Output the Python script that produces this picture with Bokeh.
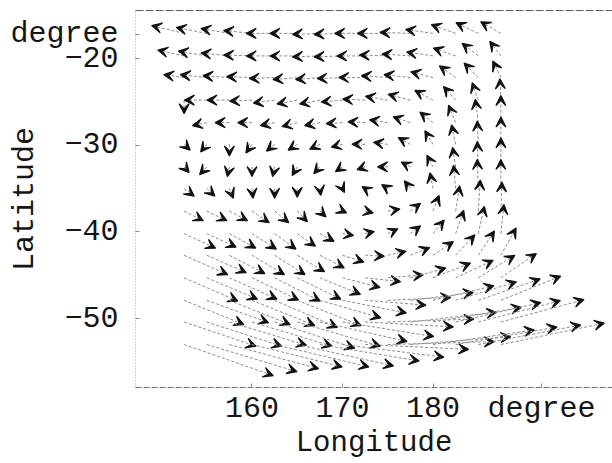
from bokeh.plotting import figure
from bokeh.models import (Range1d, ColumnDataSource, Arrow, VeeHead, FixedTicker,
                          LinearAxis)
from bokeh.embed import file_html
from bokeh.resources import INLINE

# ---- data (grid of current vectors) ----
LON = [152.5, 155.0, 157.5, 160.0, 162.5, 165.0, 167.5, 170.0,
       172.5, 175.0, 177.5, 180.0, 182.5, 185.0, 187.5]
LAT = [-17.1, -19.7, -22.2, -24.8, -27.4, -29.9, -32.5, -35.0,
       -37.6, -40.2, -42.7, -45.3, -47.9, -50.4, -53.0]

# eastward component (arbitrary speed units), one list per latitude row
U = [
    [-32, -30, -28, -28, -28, -27, -27, -28, -30, -30, -30, -27, -24, -22, -20],
    [-26, -28, -28, -28, -28, -27, -27, -28, -28, -28, -28, -26, -22, -16, -11],
    [-20, -26, -26, -25, -25, -24, -24, -25, -26, -26, -26, -22, -16, -14, -8],
    [0, -22, -22, -22, -21, -20, -20, -21, -22, -22, -22, -18, -12, -6, -1],
    [None, -14, -14, -14, -14, -15, -15, -16, -17, -18, -17, -13, -7, -3, 0],
    [6, -6, 0, -6, -8, -9, -10, -11, -13, -14, -12, -8, -4, -1, 0],
    [5, -7, -2, 0, -2, -5, -6, -7, -8, -10, -9, -6, -3, -1, 0],
    [10, 8, 4, 1, 0, 0, 1, 2, -3, -6, -6, -3, -2, -1, 0],
    [19, 20, 18, 17, 14, 10, 6, 4, 8, 12, 10, 6, 4, 2, 1],
    [31, 29, 26, 24, 21, 18, 14, 11, 9, 10, 10, 11, 8, 6, 3],
    [43, 39, 35, 32, 30, 27, 24, 21, 19, 18, 19, 20, 19, 16, 15],
    [53, 50, 47, 46, 45, 43, 40, 37, 35, 35, 35, 37, 37, 36, 35],
    [59, 61, 60, 62, 62, 63, 60, 63, 60, 62, 62, 60, 60, 61, 59],
    [71, 74, 76, 79, 79, 82, 86, 90, 87, 85, 85, 87, 84, 81, 82],
    [88, 89, 88, 89, 93, 95, 98, 100, 102, 105, 99, 100, 100, 101, 102],
]
# northward component (same units)
V = [
    [8, 6, 5, 3, 0, 0, -1, -1, 0, 0, 1, 4, 9, 11, 12],
    [6, 5, 3, 1, 0, 0, -1, -1, 0, 1, 2, 4, 8, 13, 15],
    [3, 3, 2, 1, -1, -2, -2, -1, 0, 2, 3, 6, 12, 15, 17],
    [-14, 0, 0, -1, -3, -4, -4, -2, 1, 4, 6, 10, 14, 18, 22],
    [None, -3, 0, 0, -3, -4, -3, -1, 1, 3, 6, 11, 18, 24, 28],
    [-6, -8, -12, -9, -7, -6, -5, -3, 0, 2, 7, 14, 20, 24, 28],
    [-6, -8, -10, -10, -10, -9, -7, -5, -3, 0, 5, 12, 20, 26, 30],
    [-8, -8, -10, -10, -10, -9, -7, -4, 2, 4, 8, 16, 24, 30, 30],
    [-10, -10, -10, -12, -12, -11, -6, -2, -2, 2, 8, 16, 26, 32, 30],
    [-15, -14, -15, -16, -16, -13, -8, -2, 2, 5, 8, 14, 24, 28, 30],
    [-20, -18, -19, -20, -20, -17, -13, -7, -1, 4, 8, 14, 21, 25, 28],
    [-24, -22, -22, -23, -24, -22, -17, -10, -4, 3, 10, 15, 18, 23, 25],
    [-25, -23, -25, -26, -28, -26, -18, -13, -5, 3, 8, 15, 19, 22, 25],
    [-25, -25, -24, -25, -27, -25, -20, -15, -5, 3, 10, 15, 20, 22, 23],
    [-32, -28, -25, -23, -23, -22, -17, -13, -5, 3, 8, 15, 18, 20, 22],
]

X_TICKS = [160, 170, 180]
Y_TICKS = [-50, -40, -30, -20]
X_UNIT_POS = 192
Y_UNIT_POS = -17.2
UNIT_LABEL = "degree"
X_TITLE = "Longitude"
Y_TITLE = "Latitude"

ARROW_SCALE = 0.112   # degrees of arrow length per speed unit
FONT = "Liberation Mono"
TXT = "#151515"

# ---- build arrow table ----
xs, ys, xe, ye = [], [], [], []
for lat, urow, vrow in zip(LAT, U, V):
    for lon, u, v in zip(LON, urow, vrow):
        if u is None or v is None:
            continue
        xs.append(lon)
        ys.append(lat)
        xe.append(lon + u * ARROW_SCALE)
        ye.append(lat + v * ARROW_SCALE)
src = ColumnDataSource(dict(xs=xs, ys=ys, xe=xe, ye=ye))

p = figure(width=612, height=463,
           x_range=Range1d(147.13, 199.83), y_range=Range1d(-57.96, -14.46),
           output_backend="svg", toolbar_location=None,
           min_border_left=135, min_border_right=0,
           min_border_top=10, min_border_bottom=76)
p.xgrid.visible = False
p.ygrid.visible = False
p.outline_line_color = None
p.background_fill_color = "white"
p.border_fill_color = "white"

# axes
xax = p.xaxis[0]
xax.ticker = FixedTicker(ticks=X_TICKS + [X_UNIT_POS])
xax.major_label_overrides = {X_UNIT_POS: UNIT_LABEL}
xax.axis_label = X_TITLE
yax = p.yaxis[0]
yax.ticker = FixedTicker(ticks=Y_TICKS + [Y_UNIT_POS])
yax.major_label_overrides = {Y_UNIT_POS: UNIT_LABEL}
yax.axis_label = Y_TITLE
for ax in (xax, yax):
    ax.major_label_text_font = FONT
    ax.major_label_text_font_size = "30px"
    ax.major_label_text_color = TXT
    ax.axis_label_text_font = FONT
    ax.axis_label_text_font_style = "normal"
    ax.axis_label_text_color = TXT
    ax.major_tick_in = 4
    ax.major_tick_out = 0
    ax.minor_tick_in = 0
    ax.minor_tick_out = 0
    ax.major_tick_line_color = "#8a8a8a"
yax.axis_label_text_font_size = "30px"
xax.axis_label_text_font_size = "29px"
yax.major_label_standoff = 17
yax.axis_label_standoff = -35
xax.major_label_standoff = 4
xax.axis_label_standoff = -2
yax.axis_line_color = "#a0a0a0"
yax.axis_line_dash = "1 2"
xax.axis_line_color = "#707070"
xax.axis_line_dash = "6 2"

top = LinearAxis(ticker=FixedTicker(ticks=[]), major_label_text_font_size="0px",
                 major_tick_in=0, major_tick_out=0, minor_tick_in=0, minor_tick_out=0,
                 axis_line_color="#606060", axis_line_dash="8 2")
p.add_layout(top, "above")

# arrows
arrows = Arrow(end=VeeHead(size=10, fill_color="#111111", line_color="#111111", line_width=1.2),
               source=src, x_start="xs", y_start="ys", x_end="xe", y_end="ye",
               line_color="#8c8c8c", line_width=1, line_dash="3 2")
p.add_layout(arrows)

open("out.html", "w").write(file_html(p, INLINE))
